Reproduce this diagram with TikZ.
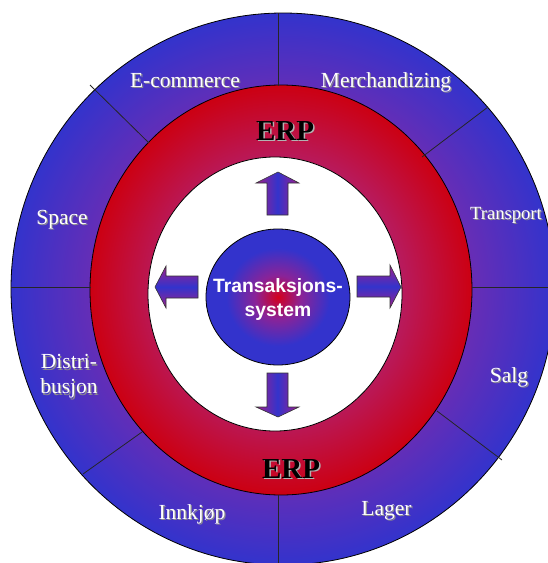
\documentclass[tikz,border=0pt]{standalone}
\usepackage{fontspec}
\setmainfont{Liberation Serif}
\setsansfont{Liberation Sans}

\definecolor{ringblue}{HTML}{3333CC}
\definecolor{ringpurple}{HTML}{6A2DB4}
\definecolor{ringred}{HTML}{CC0012}
\definecolor{ringmagenta}{HTML}{B81A5C}
\definecolor{hubred}{HTML}{D4001C}
\definecolor{hubmid}{HTML}{8A2398}
\definecolor{arrowpink}{HTML}{A0208A}

\pgfdeclareradialshading{outerring}{\pgfpoint{0bp}{0bp}}{color(0bp)=(ringpurple); color(17bp)=(ringpurple); color(25bp)=(ringblue); color(50bp)=(ringblue)}
\pgfdeclareradialshading{erpring}{\pgfpoint{0bp}{0bp}}{color(0bp)=(ringmagenta); color(16bp)=(ringmagenta); color(25bp)=(ringred); color(50bp)=(ringred)}
\pgfdeclareradialshading{hub}{\pgfpoint{0bp}{0bp}}{color(0bp)=(hubred); color(8bp)=(hubmid); color(18bp)=(ringblue); color(50bp)=(ringblue)}

\begin{document}
\begin{tikzpicture}[x=1pt,y=-1pt,
    rim/.style={draw=black,line width=0.8pt},
    divider/.style={draw=black!85,line width=0.8pt},
    lbl/.style={text=white,font=\fontsize{21.5}{25}\selectfont,inner sep=0pt,align=center},
    lblshadow/.style={lbl,text=black!45},
    erp/.style={font=\fontsize{29}{32}\selectfont\bfseries,inner sep=0pt},
    erpshadow/.style={erp,text=black!30},
    hubtext/.style={text=white,font=\fontsize{19.3}{24}\selectfont\sffamily\bfseries,inner sep=0pt,align=center},
    pointer/.style={draw=black!80,line width=0.6pt,left color=arrowpink,right color=arrowpink,middle color=ringblue},
    pointerh/.style={draw=black!80,line width=0.6pt,top color=arrowpink,bottom color=arrowpink,middle color=ringblue}]
    \useasboundingbox (0,0) rectangle (548,563);
    \clip (0,0) rectangle (548,563);
    \draw[rim,shading=outerring] (283,289) ellipse [x radius=272, y radius=276];
    \draw[rim,shading=erpring] (281,290) ellipse [x radius=191, y radius=205];
    \draw[rim,fill=white] (275,294) ellipse [x radius=127, y radius=137];
    \draw[rim,shading=hub] (278,297) ellipse [x radius=72, y radius=68];
    \draw[pointer] (267,215) -- (267,183) -- (256,183) -- (278,172) -- (299,183) -- (288,183) -- (288,215) -- cycle;
    \draw[pointer] (267,373) -- (267,407) -- (256,407) -- (278,417) -- (299,407) -- (288,407) -- (288,373) -- cycle;
    \draw[pointerh] (198,276) -- (166,276) -- (166,266) -- (155,287) -- (166,308) -- (166,298) -- (198,298) -- cycle;
    \draw[pointerh] (357,276) -- (390,276) -- (390,265) -- (401,287) -- (390,308) -- (390,297) -- (357,297) -- cycle;
    \draw[divider] (278,13) -- (278,86);
    \draw[divider] (278,495) -- (278,566);
    \draw[divider] (11,287) -- (91,287);
    \draw[divider] (472,287) -- (548,287);
    \draw[divider] (90,85) -- (149,143);
    \draw[divider] (488,107) -- (422,157);
    \draw[divider] (83,474) -- (142,432);
    \draw[divider] (502,460) -- (437,411);
    \foreach \px/\py/\txt [count=\i] in {185/87/E-commerce, 386/87/Merchandizing, 62/224/Space, 509/382/Salg, 386.5/515/Lager, 192/519/Innkjøp} {
        \node[lblshadow,anchor=base] at (\px+1.2,\py+1.2) {\txt};
        \node[lbl,anchor=base] (sector\i) at (\px,\py) {\txt};
    }
    \node[lblshadow,anchor=base,font=\fontsize{18.6}{22}\selectfont] at (507.2,220.2) {Transport};
    \node[lbl,anchor=base,font=\fontsize{18.6}{22}\selectfont] (transport) at (506,219) {Transport};
    \node[lblshadow] at (70.2,377.7) {Distri-\\busjon};
    \node[lbl] (distribusjon) at (69,376.5) {Distri-\\busjon};
    \node[erpshadow,anchor=base] at (286.5,141.5) {ERP};
    \node[erp,anchor=base] (erptop) at (285,140) {ERP};
    \node[erpshadow,anchor=base] at (292.5,479.5) {ERP};
    \node[erp,anchor=base] (erpbottom) at (291,478) {ERP};
    \node[hubtext] (hub) at (278,300) {Transaksjons-\\system};
\end{tikzpicture}
\end{document}
